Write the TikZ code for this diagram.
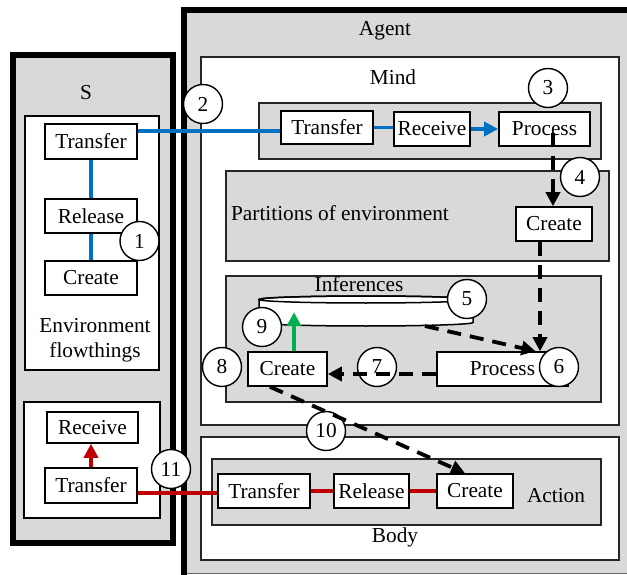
\documentclass[tikz,border=0pt]{standalone}
\usepackage{fontspec}
\setmainfont{Liberation Serif}
\usetikzlibrary{arrows.meta}
\definecolor{panel}{HTML}{D9D9D9}
\definecolor{flowblue}{HTML}{0070C0}
\definecolor{flowred}{HTML}{C00000}
\definecolor{flowgreen}{HTML}{00B050}
\tikzset{
  frame/.style={draw=black, line width=1.5pt},
  whitepanel/.style={draw=black!85, line width=1.8pt, fill=white},
  graypanel/.style={draw=black!85, line width=1.8pt, fill=panel},
  stage/.style={draw=black, line width=1.6pt, fill=white, inner sep=0pt,
    minimum height=34pt},
  num/.style={circle, draw=black, line width=1.4pt, fill=white, inner sep=0pt,
    minimum size=39pt},
  tip/.style={-{Triangle[length=14pt,width=14pt]}},
  blueflow/.style={draw=flowblue, line width=3.6pt},
  redflow/.style={draw=flowred, line width=3.6pt},
  greenflow/.style={draw=flowgreen, line width=3.6pt},
  dashflow/.style={draw=black, line width=3.8pt, dash pattern=on 14pt off 9pt},
}
\begin{document}
\begin{tikzpicture}[x=1pt, y=-1pt, font=\fontsize{21.3}{25}\selectfont]
\useasboundingbox (0,0) rectangle (627,575);

% ---- S (environment) ----
\draw[line width=6pt, fill=panel] (13,55) rectangle (173,543);
\node (slabel) at (86,93) {S};
\draw[frame, fill=white] (25,116) rectangle (159,370);
\draw[frame, fill=white] (24,402) rectangle (160,518);
\node[stage, minimum width=92pt, minimum height=35pt] (str) at (91,141.5) {Transfer};
\node[stage, minimum width=92pt] (srel) at (91,216) {Release};
\node[stage, minimum width=92pt] (scr) at (91,278) {Create};
\node[align=center] (envlabel) at (95,340) {Environment\\flowthings};
\node[stage, minimum width=91pt, minimum height=31pt] (srec) at (92.5,427.5) {Receive};
\node[stage, minimum width=92pt, minimum height=35pt] (str2) at (91,485.5) {Transfer};

% ---- Agent ----
\fill[panel] (181,7) rectangle (627,573);
\draw[black!60, line width=1pt] (187,573) -- (627,573);
\draw[line width=6pt] (184,578) -- (184,10) -- (630,10);
\node (agentlabel) at (385,31) {Agent};

% Mind
\draw[whitepanel] (201,57) rectangle (619,425);
\node (mindlabel) at (393,77) {Mind};
\draw[graypanel] (259,103) rectangle (601,159);
\node[stage, minimum width=92pt, minimum height=33pt] (mtr) at (327,127.5) {Transfer};
\node[stage, minimum width=76pt] (mrec) at (432,129) {Receive};
\node[stage, minimum width=91pt] (mpr) at (544.5,129) {Process};

\draw[graypanel] (226,171) rectangle (609,261);
\node (partlabel) at (340,213) {Partitions of environment};
\node[stage, minimum width=76pt] (pcr) at (554,224) {Create};

\draw[graypanel] (226,276) rectangle (601,402);
\node (inflabel) at (359,284) {Inferences};
% stored inferences (flat cylinder)
\filldraw[fill=white, draw=black, line width=1.5pt]
  (259,299.5) -- (259,322.5) arc[start angle=180, end angle=360, x radius=107, y radius=-3.5]
  -- (473,299.5) arc[start angle=0, end angle=180, x radius=107, y radius=-3.5] -- cycle;
\draw[black, line width=1.5pt] (366,299.5) ellipse[x radius=107, y radius=3.5];
\coordinate (store) at (425,326);
\node[stage, minimum width=79pt] (icr) at (287.5,369) {Create};
\node[stage, minimum width=131pt] (ipr) at (502.5,369) {Process};

% Body
\draw[whitepanel] (201,437) rectangle (619,560);
\node (bodylabel) at (395,537) {Body};
\draw[graypanel] (212,459) rectangle (601,525);
\node (actionlabel) at (556,496) {Action};
\node[stage, minimum width=92pt] (btr) at (264,491) {Transfer};
\node[stage, minimum width=75pt] (brel) at (371.5,491) {Release};
\node[stage, minimum width=76pt] (bcr) at (475,491) {Create};

% ---- numbered steps ----
\node[num] (n1) at (139.5,241) {1};
\node[num] (n2) at (203,104) {2};
\node[num] (n3) at (548,88) {3};
\node[num] (n4) at (580,177) {4};
\node[num] (n5) at (467,299) {5};
\node[num] (n6) at (559,367) {6};
\node[num] (n7) at (377,367) {7};
\node[num] (n8) at (222,367) {8};
\node[num] (n9) at (262,327) {9};
\node[num] (n10) at (326,431) {10};
\node[num] (n11) at (171,469) {11};

% ---- flows ----
% environment to mind (blue)
\draw[blueflow] (str.south) -- (srel.north);
\draw[blueflow] (srel.south) -- (scr.north);
\coordinate (inlet) at ([yshift=-3.5pt]mtr.west);
\draw[blueflow] (inlet -| str.east) -- (inlet);
\draw[blueflow] (mtr.east) -- (mtr.east -| mrec.west);
\draw[blueflow, tip] (mrec.east) -- (mrec.east -| mpr.west);

% processing inside the mind (dashed)
\coordinate (pstart) at (553,133);
\draw[dashflow, tip] (pstart) -- (pstart |- pcr.north);
\coordinate (cstart) at ([xshift=-14pt]pcr.south);
\draw[dashflow, tip] (cstart) -- (cstart |- ipr.north);
\coordinate (pend) at ([xshift=33pt]ipr.north);
\draw[dashflow, tip] (store) -- (pend);
\coordinate (pwest) at ([yshift=-5pt]ipr.west);
\draw[dashflow, tip] (pwest) -- (pwest -| icr.east);
\coordinate (gstart) at ([xshift=6.5pt]icr.north);
\draw[greenflow, tip] (gstart) -- ++(0,-39);
\coordinate (dstart) at ([xshift=-17.5pt]icr.south);
\coordinate (dend) at ([xshift=-10pt]bcr.north);
\draw[dashflow, tip] (dstart) -- (dend);

% body to environment (red)
\draw[redflow] (btr.east) -- (brel.west);
\draw[redflow] (brel.east) -- (bcr.west);
\coordinate (outlet) at ([yshift=-2pt]btr.west);
\draw[redflow] (outlet) -- (outlet -| str2.east);
\draw[redflow, tip] (str2.north) -- (str2.north |- srec.south);
\end{tikzpicture}
\end{document}
